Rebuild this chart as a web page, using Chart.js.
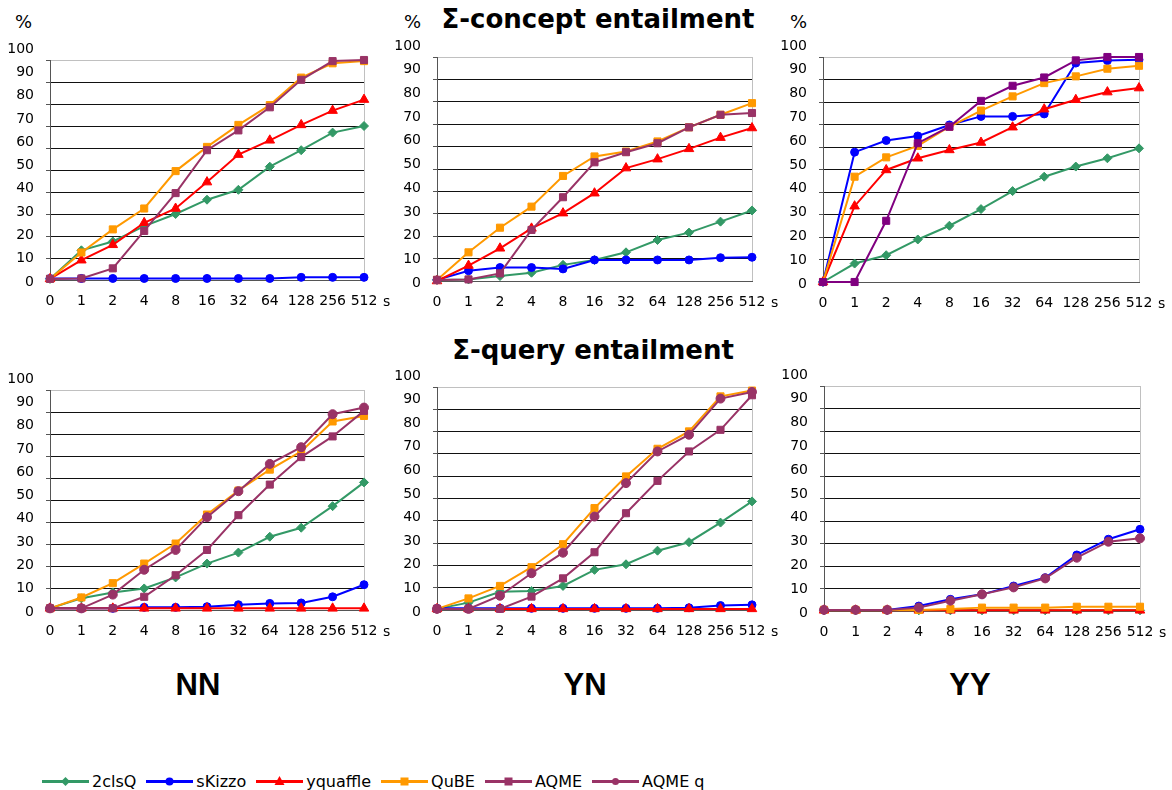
<!DOCTYPE html>
<html>
<head>
<meta charset="utf-8">
<script src="https://cdn.jsdelivr.net/npm/chart.js@4.4.0/dist/chart.umd.min.js"></script>
<style>
body { margin: 0; background: #fff; width: 1172px; height: 790px; position: relative; overflow: hidden; font-family: "DejaVu Sans", sans-serif; }
canvas { position: absolute; }
.t { position: absolute; white-space: nowrap; color: #000; line-height: 1; }
.pct { font-size: 18px; }
.title { font-weight: bold; font-size: 26px; transform: translate(-50%, -50%); }
.grp { font-family: "Liberation Sans", Arial, sans-serif; font-weight: bold; font-size: 31px; transform: translate(-50%, -50%); }
#legend { position: absolute; left: 42px; top: 772px; display: flex; align-items: center; font-size: 16px; }
#legend .item { display: flex; align-items: center; margin-right: 10px; }
#legend svg { margin-right: 3px; }
</style>
</head>
<body>

<div class="t pct" style="left:15px;top:13px">%</div>
<div class="t pct" style="left:404px;top:13px">%</div>
<div class="t pct" style="left:790px;top:13px">%</div>
<div class="t title" style="left:598px;top:19px">&Sigma;-concept entailment</div>
<div class="t title" style="left:593px;top:350px">&Sigma;-query entailment</div>
<div class="t grp" style="left:198px;top:684px">NN</div>
<div class="t grp" style="left:585px;top:684px">YN</div>
<div class="t grp" style="left:970px;top:684px">YY</div>
<div id="legend"></div>

<canvas id="p1"></canvas>
<canvas id="p2"></canvas>
<canvas id="p3"></canvas>
<canvas id="p4"></canvas>
<canvas id="p5"></canvas>
<canvas id="p6"></canvas>

<script>
// time limits (x axis) and % ticks
const times = ['0', '1', '2', '4', '8', '16', '32', '64', '128', '256', '512'];
const yTicks = [0, 10, 20, 30, 40, 50, 60, 70, 80, 90, 100];
const solvers = ['2clsQ', 'sKizzo', 'yquaffle', 'QuBE', 'AQME', 'AQME q'];

// Sigma-concept entailment, NN
const cNN_2clsQ    = [0.5, 13.5, 17.5, 24.5, 30, 36.5, 41, 51.5, 59, 67, 70];
const cNN_sKizzo   = [0.7, 0.7, 0.7, 0.7, 0.7, 0.7, 0.7, 0.7, 1.2, 1.2, 1.2];
const cNN_yquaffle = [0.5, 9, 16, 26, 32.5, 44.5, 57, 63.5, 70.5, 77, 82];
const cNN_QuBE     = [0.5, 12.5, 23, 32.5, 49.5, 60.5, 70.5, 79.5, 92, 98.5, 99.5];
const cNN_AQME     = [0.5, 0.7, 5.3, 22.3, 39.5, 59, 68, 78.5, 91, 99.5, 100];

// Sigma-concept entailment, YN
const cYN_2clsQ    = [0.5, 0.7, 2.2, 3.7, 7.2, 9.4, 12.8, 18.3, 21.6, 26.5, 31.5];
const cYN_sKizzo   = [0.5, 4.6, 6, 6, 5.4, 9.4, 9.4, 9.4, 9.4, 10.4, 10.6];
const cYN_yquaffle = [0, 6.9, 14.6, 23.5, 30.3, 39.2, 50.4, 54.4, 59, 64, 68.3];
const cYN_QuBE     = [0.5, 12.8, 23.8, 33.2, 46.9, 55.6, 57.8, 62.3, 68.6, 74.2, 79.4];
const cYN_AQME     = [0.5, 0.7, 3.4, 22.8, 37.4, 53, 57.5, 61.5, 68.6, 74.2, 75];

// Sigma-concept entailment, YY
const cYY_2clsQ    = [0, 8.2, 11.9, 18.9, 25, 32.4, 40.4, 46.8, 51.3, 55, 59.4];
const cYY_sKizzo   = [0, 57.7, 62.9, 64.9, 69.8, 73.6, 73.6, 74.7, 97.3, 98.4, 98.8];
const cYY_yquaffle = [0, 33.7, 49.8, 55, 58.7, 62, 68.8, 76.8, 81, 84.4, 86.2];
const cYY_QuBE     = [0, 46.8, 55.4, 60.5, 69, 76.2, 82.5, 88.4, 91.4, 94.8, 96.1];
const cYY_AQME     = [0, 0, 27.2, 61.7, 69, 80.5, 87.2, 90.9, 98.5, 100, 100];

// Sigma-query entailment, NN
const qNN_2clsQ    = [0.75, 5.3, 8, 9.8, 14.8, 21.1, 26.1, 33.3, 37.4, 47.2, 58];
const qNN_sKizzo   = [0.75, 0.75, 0.75, 1.2, 1.2, 1.5, 2.4, 3, 3.2, 6, 11.5];
const qNN_yquaffle = [0.75, 0.75, 0.75, 0.75, 0.75, 0.75, 0.75, 0.75, 0.75, 0.75, 0.75];
const qNN_QuBE     = [0.75, 5.7, 12.2, 21.1, 30.2, 43.4, 54.3, 63.8, 72.1, 85.7, 88.2];
const qNN_AQME     = [0.75, 0.75, 0.75, 6, 15.8, 27.3, 43.1, 57, 69.5, 78.9, 90.5];
const qNN_AQMEq    = [0.75, 0.75, 7, 18.3, 27.3, 42.2, 54, 66.4, 74, 89, 92];

// Sigma-query entailment, YN
const qYN_2clsQ    = [0.5, 3.3, 8.2, 8.5, 10.8, 18, 20.5, 26.6, 30.4, 39.2, 48.7];
const qYN_sKizzo   = [0.75, 0.75, 0.75, 0.75, 0.75, 0.75, 0.75, 0.75, 1, 2, 2.3];
const qYN_yquaffle = [0.5, 0.5, 0.5, 0.5, 0.5, 0.5, 0.5, 0.5, 0.5, 0.5, 0.5];
const qYN_QuBE     = [0.5, 5.2, 10.8, 19.2, 29.5, 45.7, 59.9, 72.3, 80.1, 95.8, 98.4];
const qYN_AQME     = [0.5, 0.5, 0.5, 6, 14.2, 25.9, 43.4, 57.9, 71.1, 80.8, 96.3];
const qYN_AQMEq    = [0.5, 0.5, 6.4, 16.5, 25.7, 41.9, 56.9, 71.1, 78.6, 94.8, 97.8];

// Sigma-query entailment, YY
const qYY_2clsQ    = [0.3, 0.3, 0.3, 0.3, 0.3, 0.3, 0.3, 0.3, 0.3, 0.3, 0.3];
const qYY_sKizzo   = [0.5, 0.5, 0.5, 2.2, 5.2, 7.4, 11.1, 14.8, 24.9, 31.9, 36.3];
const qYY_yquaffle = [0.3, 0.3, 0.3, 0.3, 0.3, 0.3, 0.3, 0.3, 0.3, 0.3, 0.3];
const qYY_QuBE     = [0.5, 0.5, 0.5, 0.5, 0.9, 1.5, 1.5, 1.5, 1.9, 1.9, 1.9];
const qYY_AQMEq    = [0.5, 0.5, 0.5, 1.5, 4.6, 7.4, 10.5, 14.5, 23.7, 30.8, 32.3];

const styles = [
    { color: '#339966', point: 'rectRot', r: 4.5 },
    { color: '#0000ff', point: 'circle', r: 4 },
    { color: '#ff0000', point: 'triangle', r: 5.5 },
    { color: '#ff9900', point: 'rect', r: 5 },
    { color: '#993366', point: 'rect', r: 5 },
    { color: '#993366', point: 'circle', r: 4.5 }
];

const tickFont = '14px "DejaVu Sans"';
const PAD_TOP = 25;

// y labels sit a little apart from their grid lines in the original, plus the "s" after 512
const labelPlugin = {
    id: 'labels',
    afterDraw(chart) {
        const ctx = chart.ctx;
        const y = chart.scales.y;
        const area = chart.chartArea;
        ctx.save();
        ctx.font = tickFont;
        ctx.fillStyle = '#000';
        ctx.textBaseline = 'middle';
        ctx.textAlign = 'right';
        yTicks.forEach(v => {
            ctx.fillText(String(v), area.left - 16, y.getPixelForValue(v) + 2 - v * 0.13);
        });
        ctx.textAlign = 'left';
        ctx.fillText('s', area.right + 19, area.bottom + 22);
        ctx.restore();
    }
};

function makePanel(id, left, top, w, h, series, aqmeColor) {
    const cv = document.getElementById(id);
    cv.width = w + 80;
    cv.height = h + PAD_TOP + 30;
    cv.style.left = (left - 50) + 'px';
    cv.style.top = (top - PAD_TOP) + 'px';

    const datasets = [];
    series.forEach((data, i) => {
        if (!data) return;
        let c = styles[i].color;
        if (i === 4 && aqmeColor) c = aqmeColor;
        datasets.push({
            label: solvers[i],
            data: data,
            borderColor: c,
            backgroundColor: c,
            borderWidth: 2,
            pointStyle: styles[i].point,
            pointRadius: styles[i].r,
            pointBorderWidth: 1,
            pointBackgroundColor: c,
            pointBorderColor: c,
            tension: 0,
            order: 6 - i,
            clip: false
        });
    });

    new Chart(cv, {
        type: 'line',
        data: { labels: times, datasets: datasets },
        plugins: [labelPlugin],
        options: {
            responsive: false,
            animation: false,
            layout: { padding: { left: 0, top: PAD_TOP, right: 30, bottom: 0 } },
            plugins: { legend: { display: false }, tooltip: { enabled: false } },
            scales: {
                x: {
                    offset: false,
                    afterFit: s => { s.height = 30; },
                    grid: {
                        drawTicks: false,
                        color: ctx => ctx.index === times.length - 1 ? '#c0c0c0' : 'rgba(0,0,0,0)'
                    },
                    border: { color: '#555', width: 1 },
                    ticks: {
                        color: '#000', font: { family: 'DejaVu Sans', size: 14 },
                        padding: 13, maxRotation: 0, autoSkip: false
                    }
                },
                y: {
                    min: 0, max: 100,
                    afterFit: s => { s.width = 50; },
                    afterBuildTicks: s => { s.ticks = yTicks.map(v => ({ value: v })); },
                    grid: {
                        tickLength: 4,
                        tickColor: '#555',
                        color: ctx => ctx.tick.value === 100 ? '#c0c0c0' : (ctx.tick.value === 0 ? '#555' : '#111')
                    },
                    border: { color: '#555', width: 1 },
                    ticks: { display: false }
                }
            }
        }
    });
}

makePanel('p1', 50, 60, 314, 220, [cNN_2clsQ, cNN_sKizzo, cNN_yquaffle, cNN_QuBE, cNN_AQME, null]);
makePanel('p2', 437, 57, 315, 224, [cYN_2clsQ, cYN_sKizzo, cYN_yquaffle, cYN_QuBE, cYN_AQME, null]);
makePanel('p3', 823, 57, 316, 225, [cYY_2clsQ, cYY_sKizzo, cYY_yquaffle, cYY_QuBE, cYY_AQME, null], '#800080');
makePanel('p4', 50, 390, 314, 220, [qNN_2clsQ, qNN_sKizzo, qNN_yquaffle, qNN_QuBE, qNN_AQME, qNN_AQMEq]);
makePanel('p5', 437, 387, 315, 223, [qYN_2clsQ, qYN_sKizzo, qYN_yquaffle, qYN_QuBE, qYN_AQME, qYN_AQMEq]);
makePanel('p6', 824, 386, 316, 225, [qYY_2clsQ, qYY_sKizzo, qYY_yquaffle, qYY_QuBE, null, qYY_AQMEq]);

// legend: line with marker, then name
const legend = document.getElementById('legend');
solvers.forEach((name, i) => {
    const c = styles[i].color;
    let mark = '';
    if (styles[i].point === 'rectRot') mark = `<polygon points="23.5,5 28,9.5 23.5,14 19,9.5" fill="${c}"/>`;
    else if (styles[i].point === 'circle') mark = `<circle cx="23.5" cy="9.5" r="${i === 5 ? 3.5 : 4}" fill="${c}"/>`;
    else if (styles[i].point === 'triangle') mark = `<polygon points="23.5,4 28.5,13 18.5,13" fill="${c}"/>`;
    else mark = `<rect x="19.5" y="5.5" width="8" height="8" fill="${c}"/>`;
    const item = document.createElement('div');
    item.className = 'item';
    item.innerHTML = `<svg width="47" height="19"><line x1="0" y1="9.5" x2="47" y2="9.5" stroke="${c}" stroke-width="3"/>${mark}</svg><span>${name}</span>`;
    legend.appendChild(item);
});
</script>
</body>
</html>
